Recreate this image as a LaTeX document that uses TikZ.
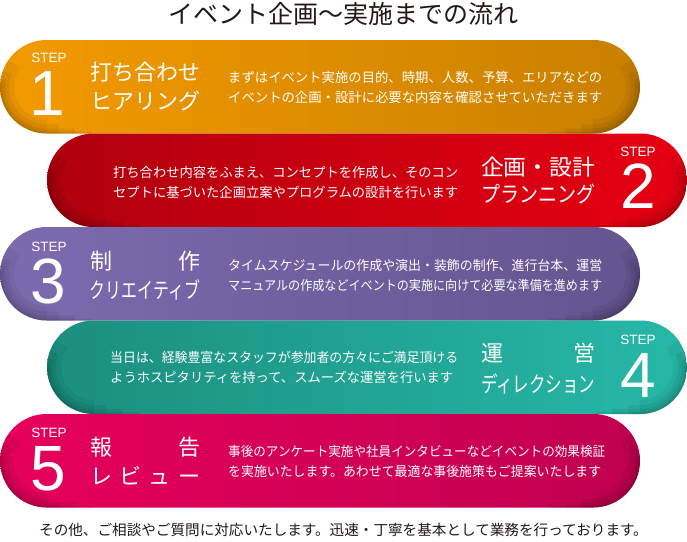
\documentclass[tikz,border=0pt]{standalone}
\usepackage{fontspec}
\usepackage{graphicx}
\setmainfont{Noto Sans CJK JP}
\newfontfamily\latinf{Liberation Sans}
\definecolor{inkc}{HTML}{231815}
\definecolor{oraL}{HTML}{F39A00}
\definecolor{oraR}{HTML}{C98000}
\definecolor{redL}{HTML}{B0000E}
\definecolor{redR}{HTML}{E60012}
\definecolor{purL}{HTML}{7C6BAF}
\definecolor{purR}{HTML}{64548F}
\definecolor{tealL}{HTML}{1B8E7F}
\definecolor{tealR}{HTML}{27B8A8}
\definecolor{magL}{HTML}{E6005C}
\definecolor{magR}{HTML}{C00050}
\newcommand\fitw[2]{\resizebox{#1}{\height}{#2}}
\tikzset{
  pillshape/.style={rounded corners=46.75pt},
  steplbl/.style={font=\latinf\fontsize{13.5}{13.5}\selectfont, text=white, anchor=base, inner sep=0pt, text height=10pt, text depth=0pt},
  stepnum/.style={font=\latinf\fontsize{64}{64}\selectfont, text=white, anchor=base, inner sep=0pt, text height=46pt, text depth=0pt},
  ttl/.style={font=\fontsize{22}{22}\selectfont, text=white, inner sep=0pt, text height=18pt, text depth=2pt},
  desc/.style={font=\fontsize{13.3}{20}\selectfont, text=white, align=left, anchor=west, inner sep=0pt},
  plain/.style={text=inkc, inner sep=0pt},
  edgeshade/.style={black, line cap=butt}
}
\newcommand\pill[6]{%
  \shade[pillshape, left color=#5, right color=#6] (#1,#2) rectangle (#3,#4);
  \begin{scope}
    \clip[pillshape] (#1,#2) rectangle (#3,#4);
    \pgfmathsetmacro\cxl{#1+46.75}
    \pgfmathsetmacro\cxr{#3-46.75}
    \foreach \w/\o/\b/\len in {28/0.05/215/0, 18/0.06/200/12, 10/0.07/190/28, 4/0.08/182/45} {
      \draw[edgeshade, line width=\w pt, opacity=\o] (\cxl+\len,#4) -- (\cxl,#4) arc[start angle=90, end angle=\b, radius=46.75];
      \draw[edgeshade, line width=\w pt, opacity=\o] (\cxr-\len,#4) -- (\cxr,#4) arc[start angle=90, end angle=180-\b, radius=46.75];
    }
  \end{scope}
}
\begin{document}
\begin{tikzpicture}[x=1pt,y=-1pt]
\useasboundingbox (0,0) rectangle (687,541);
\fill[white] (0,0) rectangle (687,541);

\node[plain, font=\fontsize{25}{25}\selectfont] (title) at (343,14) {イベント企画～実施までの流れ};

% pills
\pill{0}{40}{640}{133.5}{oraL}{oraR}
\pill{47}{133.5}{687}{227}{redL}{redR}
\pill{0}{227}{640}{320.5}{purL}{purR}
\pill{47}{320.5}{687}{414}{tealL}{tealR}
\pill{0}{414}{640}{507.5}{magL}{magR}

% step 1
\node[steplbl] (s1lbl) at (49,62) {STEP};
\node[stepnum] (s1num) at (47,115) {1};
\node[ttl] (s1t1) at (145,72) {\fitw{110pt}{打ち合わせ}};
\node[ttl] (s1t2) at (145,101) {\fitw{110pt}{ヒアリング}};
\node[desc] (s1d) at (228,87.5) {\fitw{374pt}{まずはイベント実施の目的、時期、人数、予算、エリアなどの}\\\fitw{374pt}{イベントの企画・設計に必要な内容を確認させていただきます}};

% step 2
\node[desc] (s2d) at (113,182) {\fitw{345pt}{打ち合わせ内容をふまえ、コンセプトを作成し、そのコン}\\\fitw{345pt}{セプトに基づいた企画立案やプログラムの設計を行います}};
\node[ttl] (s2t1) at (538,167) {\fitw{114pt}{企画・設計}};
\node[ttl] (s2t2) at (538,194) {\fitw{114pt}{プランニング}};
\node[steplbl] (s2lbl) at (638,156) {STEP};
\node[stepnum] (s2num) at (638,208) {2};

% step 3
\node[steplbl] (s3lbl) at (49,251) {STEP};
\node[stepnum] (s3num) at (48,303) {3};
\node[ttl] (s3t1) at (145,261) {\makebox[110pt][s]{制\hfill 作}};
\node[ttl] (s3t2) at (145,290) {\fitw{110pt}{クリエイティブ}};
\node[desc] (s3d) at (228,275) {\fitw{374pt}{タイムスケジュールの作成や演出・装飾の制作、進行台本、運営}\\\fitw{374pt}{マニュアルの作成などイベントの実施に向けて必要な準備を進めます}};

% step 4
\node[desc] (s4d) at (110,367.5) {\fitw{348pt}{当日は、経験豊富なスタッフが参加者の方々にご満足頂ける}\\\fitw{343pt}{ようホスピタリティを持って、スムーズな運営を行います}};
\node[ttl] (s4t1) at (538,353) {\makebox[114pt][s]{運\hfill 営}};
\node[ttl] (s4t2) at (538,384) {\fitw{114pt}{ディレクション}};
\node[steplbl] (s4lbl) at (638,344) {STEP};
\node[stepnum] (s4num) at (638,397) {4};

% step 5
\node[steplbl] (s5lbl) at (49,437) {STEP};
\node[stepnum] (s5num) at (48,490) {5};
\node[ttl] (s5t1) at (145,447) {\makebox[110pt][s]{報\hfill 告}};
\node[ttl] (s5t2) at (145,476) {\makebox[110pt][s]{レ\hfill ビ\hfill ュ\hfill ー}};
\node[desc] (s5d) at (228,461) {\fitw{377pt}{事後のアンケート実施や社員インタビューなどイベントの効果検証}\\\fitw{373pt}{を実施いたします。あわせて最適な事後施策もご提案いたします}};

\node[plain, font=\fontsize{14.6}{14.6}\selectfont] (footer) at (343.5,530) {その他、ご相談やご質問に対応いたします。迅速・丁寧を基本として業務を行っております。};
\end{tikzpicture}
\end{document}
